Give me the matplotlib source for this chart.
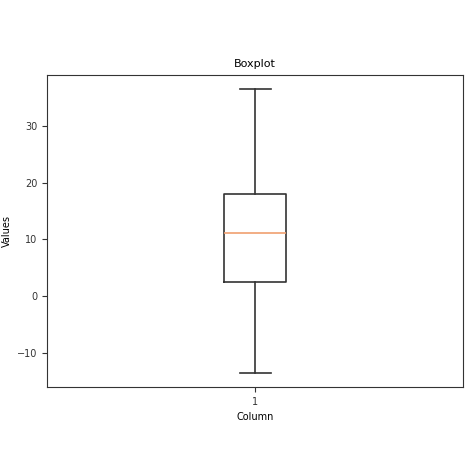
import matplotlib
matplotlib.use("Agg")
import matplotlib.pyplot as plt

labels = ["1"]
whislo = [-13.6]
q1 = [2.5]
med = [11.2]
q3 = [18.0]
whishi = [36.5]

stats = [dict(label=l, whislo=a, q1=b, med=c, q3=d, whishi=e, fliers=[])
         for l, a, b, c, d, e in zip(labels, whislo, q1, med, q3, whishi)]

plt.rcParams['font.size'] = 7
fig = plt.figure(figsize=(4.74, 4.74), dpi=100)
ax = fig.add_axes([0.10, 0.184, 0.877, 0.658])
ln = dict(color='#333333', linewidth=1.2)
ax.bxp(stats, boxprops=ln, whiskerprops=ln, capprops=ln,
       medianprops=dict(color='#f0a070', linewidth=1.2))
ax.set_ylim(-16, 39)
ax.set_yticks([-10, 0, 10, 20, 30])
ax.set_title("Boxplot", fontsize=8)
ax.set_xlabel("Column")
ax.set_ylabel("Values")
for s in ax.spines.values():
    s.set_color('#333333')
ax.tick_params(colors='#333333')
fig.savefig("out.png", dpi=100)
